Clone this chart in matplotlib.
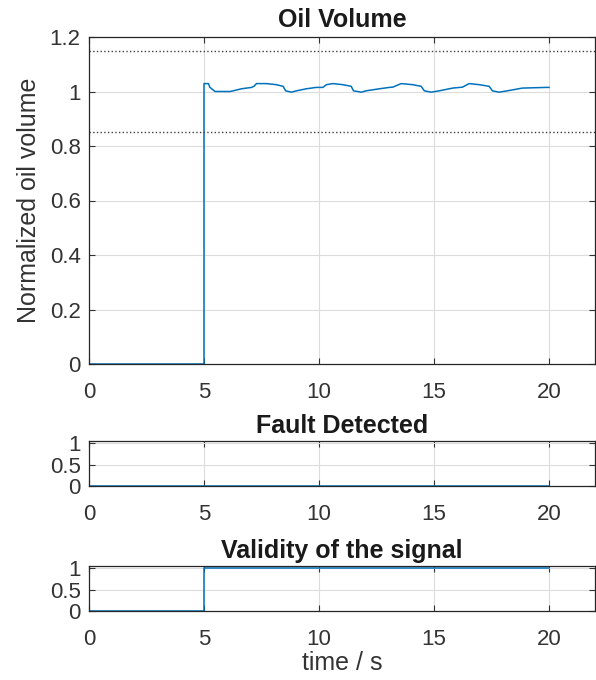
import matplotlib
matplotlib.use("Agg")
import matplotlib.pyplot as plt

plt.rcParams["font.family"] = ["Liberation Sans", "DejaVu Sans"]

# oil volume signal, corner points
oil_t = [0, 5.0, 5.0, 5.19, 5.26, 5.48, 6.13, 6.27, 6.63, 7.07, 7.17, 7.28,
         7.72, 8.15, 8.44, 8.55, 8.80, 9.02, 9.45, 9.88, 10.17, 10.32, 10.61,
         11.04, 11.40, 11.50, 11.84, 12.05, 12.63, 13.06, 13.21, 13.57, 14.08,
         14.44, 14.58, 14.87, 15.23, 15.81, 16.24, 16.53, 16.97, 17.40, 17.54,
         17.83, 18.19, 18.84, 19.86, 20.0]
oil_v = [0, 0, 1.029, 1.029, 1.015, 1.0, 1.0, 1.0025, 1.010, 1.015, 1.019,
         1.029, 1.029, 1.025, 1.019, 1.0025, 0.9975, 1.0025, 1.010, 1.015,
         1.015, 1.025, 1.029, 1.025, 1.019, 1.0025, 0.9975, 1.0025, 1.010,
         1.015, 1.016, 1.029, 1.025, 1.019, 1.0025, 0.9975, 1.0025, 1.0125,
         1.016, 1.029, 1.025, 1.019, 1.0025, 0.9975, 1.0025, 1.0125, 1.015,
         1.015]
upper_limit = 1.15
lower_limit = 0.85

fault_t = [0, 20]
fault_v = [0, 0]

valid_t = [0, 5.0, 20]
valid_v = [0, 1, 1]

blue = "#0072BD"
dark = "#333333"
tick_fs = 16
label_fs = 18

fig = plt.figure(figsize=(5.96, 6.8), dpi=100)


def style_axes(ax, yticks, ylim):
    ax.set_xlim(0, 22)
    ax.set_ylim(*ylim)
    ax.set_xticks([0, 5, 10, 15, 20])
    ax.set_yticks(yticks)
    ax.grid(True, color="#dcdcdc", linewidth=0.8)
    ax.set_axisbelow(True)
    ax.tick_params(direction="in", top=True, right=True, labelsize=tick_fs,
                   colors=dark, length=4, width=0.8, pad=6)
    ax.tick_params(axis="x", pad=13)
    for s in ax.spines.values():
        s.set_color("#262626")
        s.set_linewidth(0.9)


ax1 = fig.add_axes([89 / 596, 1 - 364 / 680, 506 / 596, (364 - 37) / 680])
ax1.plot(oil_t, oil_v, color=blue, linewidth=1.1)
ax1.axhline(upper_limit, color="#404040", linestyle=":", linewidth=1.0)
ax1.axhline(lower_limit, color="#404040", linestyle=":", linewidth=1.0)
style_axes(ax1, [0, 0.2, 0.4, 0.6, 0.8, 1, 1.2], (0, 1.2))
ax1.set_yticklabels(["0", "0.2", "0.4", "0.6", "0.8", "1", "1.2"])
ax1.set_ylabel("Normalized oil volume", fontsize=label_fs, color=dark,
               labelpad=6)
ax1.set_title("Oil Volume", fontsize=label_fs, fontweight="bold", pad=7,
              color="#1a1a1a")

ax2 = fig.add_axes([89 / 596, 1 - 486 / 680, 506 / 596, (486 - 441) / 680])
ax2.plot(fault_t, fault_v, color=blue, linewidth=1.1)
style_axes(ax2, [0, 0.5, 1], (0, 1.05))
ax2.set_yticklabels(["0", "0.5", "1"])
ax2.set_title("Fault Detected", fontsize=label_fs, fontweight="bold", pad=6,
              color="#1a1a1a")

ax3 = fig.add_axes([89 / 596, 1 - 611 / 680, 506 / 596, (611 - 566) / 680])
ax3.step(valid_t, valid_v, where="post", color=blue, linewidth=1.1)
style_axes(ax3, [0, 0.5, 1], (0, 1.05))
ax3.set_yticklabels(["0", "0.5", "1"])
ax3.set_title("Validity of the signal", fontsize=label_fs, fontweight="bold",
              pad=6, color="#1a1a1a")
ax3.set_xlabel("time / s", fontsize=label_fs, color=dark, labelpad=1)

fig.savefig("out.png", dpi=100)
